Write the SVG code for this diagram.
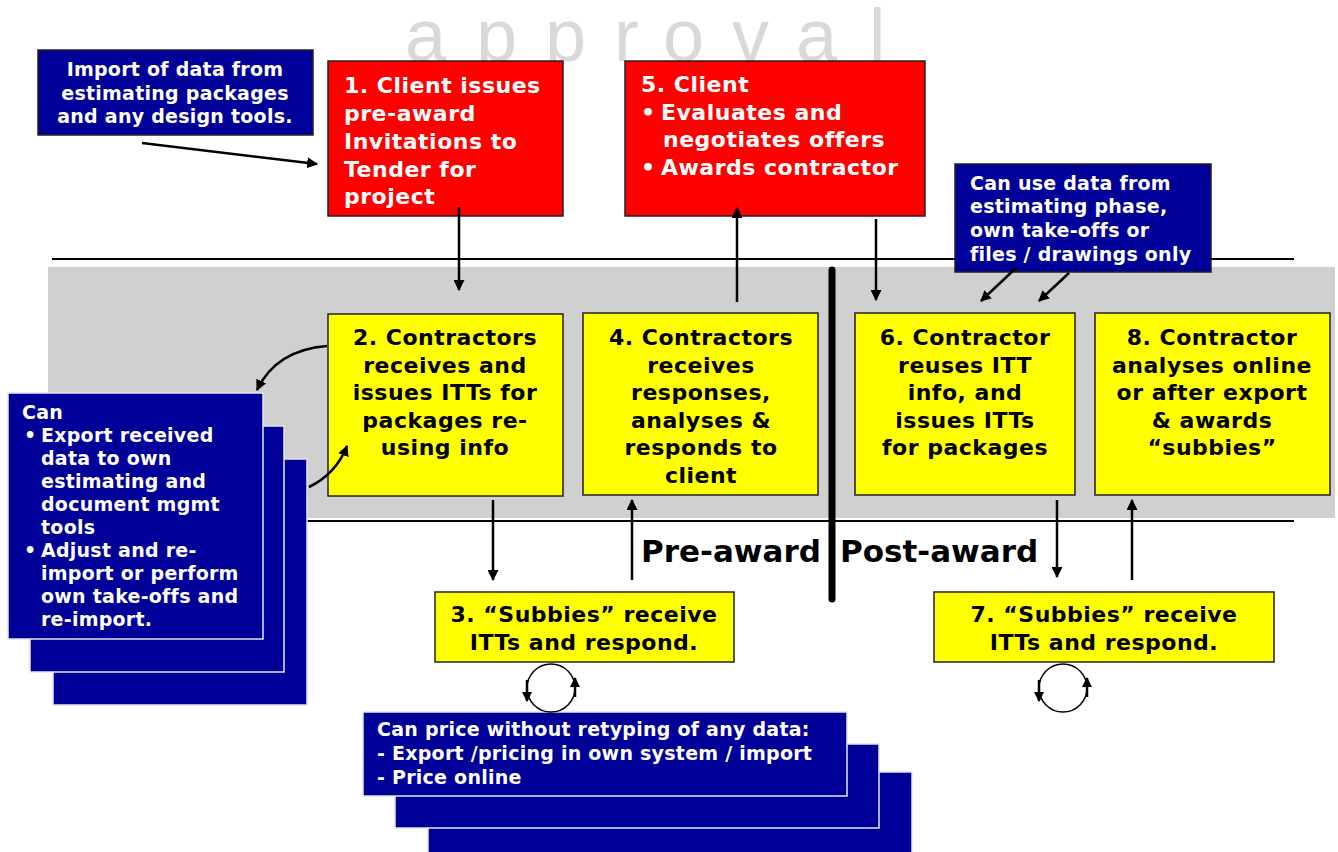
<svg xmlns="http://www.w3.org/2000/svg" width="1338" height="852" viewBox="0 0 1338 852">
<style>
.t{font-family:"DejaVu Sans",Verdana,sans-serif;font-weight:bold}
.big{font-size:22px;letter-spacing:0.5px}
.sm{font-size:19px;letter-spacing:0.25px}
.w{fill:#ffffff}
.k{fill:#000000}
.red{fill:#ff0000;stroke:#222;stroke-width:1.5}
.yel{fill:#ffff00;stroke:#222;stroke-width:1.5}
.blu{fill:#000099;stroke:#222;stroke-width:1.5}
.stk{fill:#000099;stroke:#e6e6e6;stroke-width:1.5}
.ln{stroke:#000;stroke-width:2.5;fill:none}
.thin{stroke:#000;stroke-width:1.5;fill:none}
</style>
<defs>
<marker id="ah" viewBox="0 0 10 10" refX="9" refY="5" markerWidth="11" markerHeight="11" markerUnits="userSpaceOnUse" orient="auto"><path d="M0,0 L10,5 L0,10 z" fill="#000"/></marker>
<marker id="ahs" viewBox="0 0 10 10" refX="9" refY="5" markerWidth="10" markerHeight="10" markerUnits="userSpaceOnUse" orient="auto"><path d="M0,0 L10,5 L0,10 z" fill="#000"/></marker>
</defs>
<rect width="1338" height="852" fill="#ffffff"/>
<g id="title">
<text x="405 476 545 614 663 732 796 869" y="61" font-family="Liberation Sans,Arial,sans-serif" font-size="74" fill="#d9d9d9">approval</text>
</g>
<g id="band">
<rect x="48" y="267" width="1287" height="251" fill="#d0d0d0"/>
<line x1="52" y1="259" x2="1294" y2="259" stroke="#000" stroke-width="2"/>
<line x1="52" y1="521" x2="1294" y2="521" stroke="#000" stroke-width="2"/>
</g>
<g id="note-import">
<rect class="blu" x="38" y="50" width="275" height="85"/>
<text class="t sm w" text-anchor="middle"><tspan x="175" y="76">Import of data from</tspan><tspan x="175" y="100">estimating packages</tspan><tspan x="175" y="123">and any design tools.</tspan></text>
</g>
<g id="node1">
<rect class="red" x="328" y="61" width="235" height="155"/>
<text class="t big w"><tspan x="344" y="93">1. Client issues</tspan><tspan x="344" y="121">pre-award</tspan><tspan x="344" y="149">Invitations to</tspan><tspan x="344" y="177">Tender for</tspan><tspan x="344" y="204">project</tspan></text>
</g>
<g id="node5">
<rect class="red" x="625" y="61" width="300" height="155"/>
<text class="t big w"><tspan x="641" y="92">5. Client</tspan><tspan x="641" y="120">•</tspan><tspan x="661" y="120">Evaluates and</tspan><tspan x="663" y="147">negotiates offers</tspan><tspan x="641" y="175">•</tspan><tspan x="661" y="175">Awards contractor</tspan></text>
</g>
<g id="note-data">
<rect class="blu" x="955" y="164" width="256" height="108"/>
<text class="t sm w"><tspan x="970" y="190">Can use data from</tspan><tspan x="970" y="213">estimating phase,</tspan><tspan x="970" y="237">own take-offs or</tspan><tspan x="970" y="261">files / drawings only</tspan></text>
</g>
<g id="divider">
<line x1="832" y1="270" x2="832" y2="599" stroke="#000" stroke-width="7" stroke-linecap="round"/>
</g>
<g id="node2">
<rect class="yel" x="328" y="314" width="235" height="182"/>
<text class="t big k" text-anchor="middle"><tspan x="445" y="345">2. Contractors</tspan><tspan x="445" y="373">receives and</tspan><tspan x="445" y="400">issues ITTs for</tspan><tspan x="445" y="428">packages re-</tspan><tspan x="445" y="455">using info</tspan></text>
</g>
<g id="node4">
<rect class="yel" x="583" y="313" width="235" height="182"/>
<text class="t big k" text-anchor="middle"><tspan x="701" y="345">4. Contractors</tspan><tspan x="701" y="373">receives</tspan><tspan x="701" y="400">responses,</tspan><tspan x="701" y="428">analyses &amp;</tspan><tspan x="701" y="455">responds to</tspan><tspan x="701" y="483">client</tspan></text>
</g>
<g id="node6">
<rect class="yel" x="855" y="313" width="220" height="182"/>
<text class="t big k" text-anchor="middle"><tspan x="965" y="345">6. Contractor</tspan><tspan x="965" y="373">reuses ITT</tspan><tspan x="965" y="400">info, and</tspan><tspan x="965" y="428">issues ITTs</tspan><tspan x="965" y="455">for packages</tspan></text>
</g>
<g id="node8">
<rect class="yel" x="1095" y="313" width="235" height="182"/>
<text class="t big k" text-anchor="middle"><tspan x="1212" y="345">8. Contractor</tspan><tspan x="1212" y="373">analyses online</tspan><tspan x="1212" y="400">or after export</tspan><tspan x="1212" y="428">&amp; awards</tspan><tspan x="1212" y="455">“subbies”</tspan></text>
</g>
<g id="node3">
<rect class="yel" x="435" y="592" width="299" height="70"/>
<text class="t big k" text-anchor="middle"><tspan x="584" y="622">3. “Subbies” receive</tspan><tspan x="584" y="650">ITTs and respond.</tspan></text>
</g>
<g id="node7">
<rect class="yel" x="934" y="592" width="340" height="70"/>
<text class="t big k" text-anchor="middle"><tspan x="1104" y="622">7. “Subbies” receive</tspan><tspan x="1104" y="650">ITTs and respond.</tspan></text>
</g>
<g id="labels">
<text class="t k" font-size="31" x="641" y="562">Pre-award</text>
<text class="t k" font-size="31" x="840" y="562">Post-award</text>
</g>
<g id="note-export">
<rect class="stk" x="53" y="459" width="254" height="246"/>
<rect class="stk" x="30" y="426" width="254" height="246"/>
<rect class="stk" x="8" y="393" width="255" height="246"/>
<text class="t sm w"><tspan x="22" y="419">Can</tspan><tspan x="24" y="442">•</tspan><tspan x="41" y="442">Export received</tspan><tspan x="41" y="465">data to own</tspan><tspan x="41" y="488">estimating and</tspan><tspan x="41" y="511">document mgmt</tspan><tspan x="41" y="534">tools</tspan><tspan x="24" y="557">•</tspan><tspan x="41" y="557">Adjust and re-</tspan><tspan x="41" y="580">import or perform</tspan><tspan x="41" y="603">own take-offs and</tspan><tspan x="41" y="626">re-import.</tspan></text>
</g>
<g id="note-price">
<rect class="stk" x="428" y="772" width="484" height="90"/>
<rect class="stk" x="395" y="744" width="484" height="84"/>
<rect class="stk" x="363" y="712" width="484" height="84"/>
<text class="t sm w"><tspan x="377" y="736">Can price without retyping of any data:</tspan><tspan x="377" y="760">- Export /pricing in own system / import</tspan><tspan x="377" y="784">- Price online</tspan></text>
</g>
<g id="connectors">
<line class="ln" x1="142" y1="143" x2="317" y2="164" marker-end="url(#ah)"/>
<line class="ln" x1="459" y1="207" x2="459" y2="290" marker-end="url(#ah)"/>
<line class="ln" x1="737" y1="302" x2="737" y2="208" marker-end="url(#ah)"/>
<line class="ln" x1="876" y1="219" x2="876" y2="300" marker-end="url(#ah)"/>
<line class="ln" x1="1017" y1="267" x2="981" y2="301" marker-end="url(#ah)"/>
<line class="ln" x1="1069" y1="273" x2="1039" y2="301" marker-end="url(#ah)"/>
<line class="ln" x1="493" y1="500" x2="493" y2="580" marker-end="url(#ah)"/>
<line class="ln" x1="632" y1="580" x2="632" y2="500" marker-end="url(#ah)"/>
<line class="ln" x1="1057" y1="500" x2="1057" y2="577" marker-end="url(#ah)"/>
<line class="ln" x1="1132" y1="580" x2="1132" y2="500" marker-end="url(#ah)"/>
<path class="ln" d="M327,346 Q276,350 257,390" marker-end="url(#ah)"/>
<path class="ln" d="M309,487 Q336,474 347,446" marker-end="url(#ah)"/>
<circle class="thin" cx="551" cy="688" r="24"/>
<line class="ln" x1="527" y1="680" x2="527" y2="701" marker-end="url(#ahs)"/>
<line class="ln" x1="575" y1="697" x2="575" y2="678" marker-end="url(#ahs)"/>
<circle class="thin" cx="1063" cy="688" r="24"/>
<line class="ln" x1="1039" y1="680" x2="1039" y2="701" marker-end="url(#ahs)"/>
<line class="ln" x1="1087" y1="697" x2="1087" y2="678" marker-end="url(#ahs)"/>
</g>
</svg>
